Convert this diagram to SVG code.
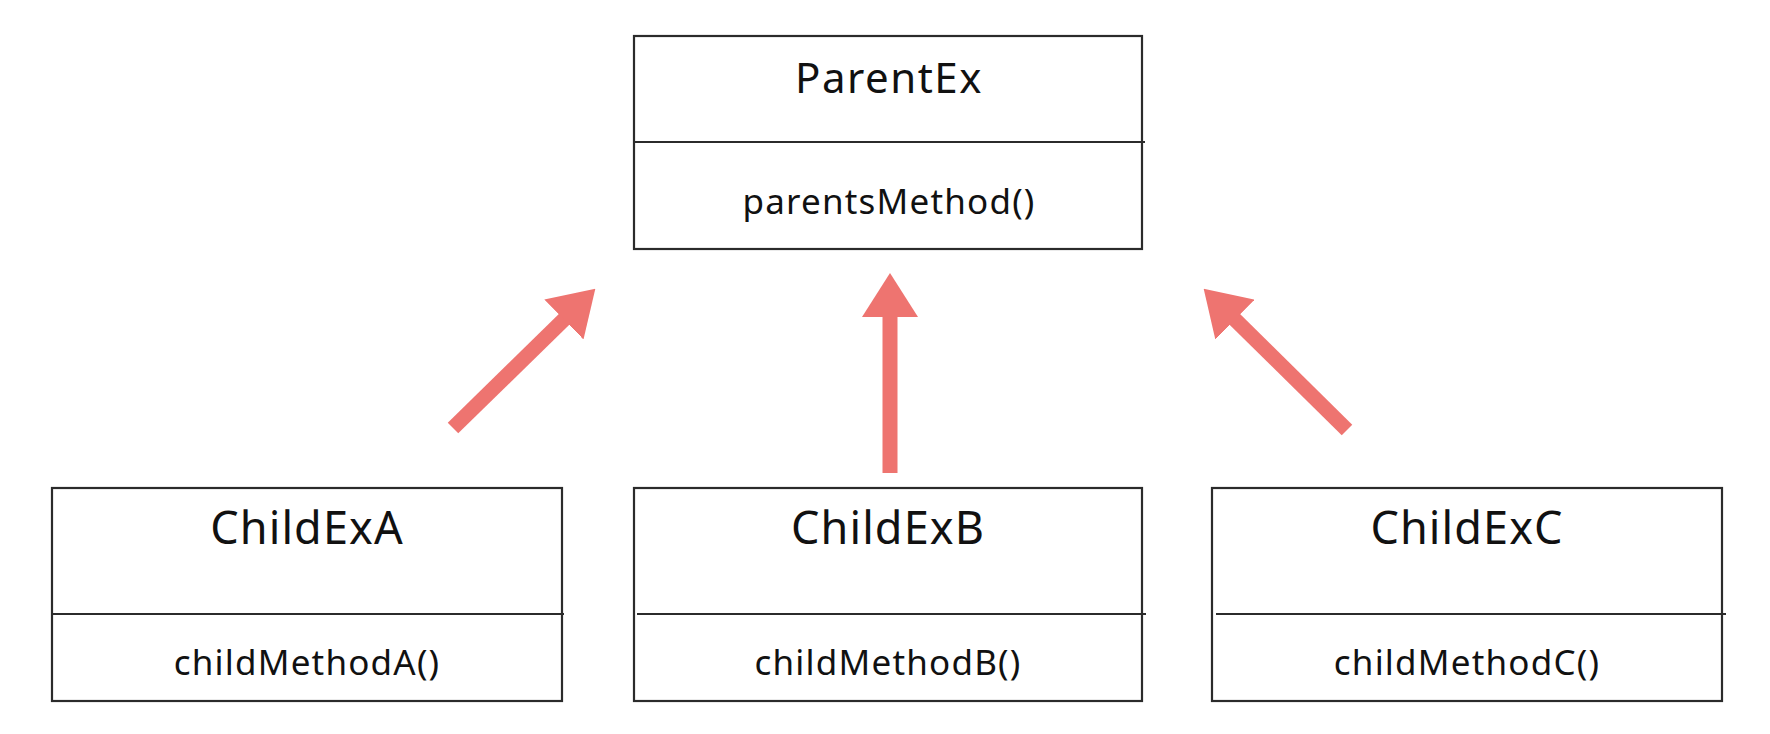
<svg xmlns="http://www.w3.org/2000/svg" width="1770" height="734" viewBox="0 0 1770 734">
<style>
.box{fill:#ffffff;stroke:#2b2b2b;stroke-width:2.2}
.div{stroke:#2b2b2b;stroke-width:2.2}
.title{font-family:"Noto Sans","Liberation Sans",sans-serif;font-size:42px;letter-spacing:1.5px;fill:#111111;text-anchor:middle}
.ctitle{font-family:"Noto Sans","Liberation Sans",sans-serif;font-size:45px;letter-spacing:1.1px;fill:#111111;text-anchor:middle}
.meth{font-family:"Noto Sans","Liberation Sans",sans-serif;font-size:35px;letter-spacing:1.2px;fill:#111111;text-anchor:middle}
.arrow{stroke:#EE7470;stroke-width:15;fill:none;marker-end:url(#head)}
</style>
<defs>
<marker id="head" markerUnits="userSpaceOnUse" markerWidth="44" markerHeight="56" viewBox="0 0 44 56" refX="1" refY="28" orient="auto">
<path d="M0,0 L44,28 L0,56 z" fill="#EE7470"/>
</marker>
</defs>
<rect width="1770" height="734" fill="#ffffff"/>
<g id="ParentEx">
<rect class="box" x="634" y="36" width="508" height="213"/>
<line class="div" x1="634" y1="142" x2="1145" y2="142"/>
<text class="title" x="889" y="93">ParentEx</text>
<text class="meth" x="889" y="214">parentsMethod()</text>
</g>
<g id="ChildExA">
<rect class="box" x="52" y="488" width="510" height="213"/>
<line class="div" x1="52" y1="614" x2="564" y2="614"/>
<text class="ctitle" x="307" y="544">ChildExA</text>
<text class="meth" x="307" y="675">childMethodA()</text>
</g>
<g id="ChildExB">
<rect class="box" x="634" y="488" width="508" height="213"/>
<line class="div" x1="637" y1="614" x2="1146" y2="614"/>
<text class="ctitle" x="888" y="544">ChildExB</text>
<text class="meth" x="888" y="675">childMethodB()</text>
</g>
<g id="ChildExC">
<rect class="box" x="1212" y="488" width="510" height="213"/>
<line class="div" x1="1216" y1="614" x2="1726" y2="614"/>
<text class="ctitle" x="1467" y="544">ChildExC</text>
<text class="meth" x="1467" y="675">childMethodC()</text>
</g>
<g id="connectors">
<line class="arrow" x1="453" y1="428" x2="564.6" y2="318.8"/>
<line class="arrow" x1="890" y1="473" x2="890" y2="316"/>
<line class="arrow" x1="1347" y1="430" x2="1234.3" y2="318.9"/>
</g>
</svg>
